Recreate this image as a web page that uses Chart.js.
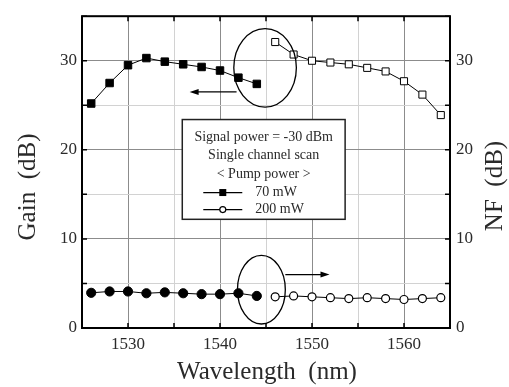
<!DOCTYPE html>
<html>
<head>
<meta charset="utf-8">
<script src="https://cdn.jsdelivr.net/npm/chart.js@4.4.0/dist/chart.umd.min.js"></script>
<style>
  html, body { margin: 0; padding: 0; background: #fff; }
  canvas { display: block; }
</style>
</head>
<body>
<canvas id="myChart" width="509" height="387"></canvas>
<script>
// values
var wavelength70 = [1526, 1528, 1530, 1532, 1534, 1536, 1538, 1540, 1542, 1544];
var gain70 = [25.2, 27.5, 29.5, 30.3, 29.9, 29.6, 29.3, 28.9, 28.1, 27.4];
var nf70 = [3.95, 4.1, 4.1, 3.9, 4.0, 3.9, 3.8, 3.8, 3.9, 3.6];

var wavelength200 = [1546, 1548, 1550, 1552, 1554, 1556, 1558, 1560, 1562, 1564];
var gain200 = [32.1, 30.7, 30.0, 29.8, 29.6, 29.2, 28.8, 27.7, 26.2, 23.9];
var nf200 = [3.5, 3.6, 3.5, 3.4, 3.3, 3.4, 3.3, 3.2, 3.3, 3.4];

var xLabels = [1530, 1540, 1550, 1560];
var yLabels = [0, 10, 20, 30];

var infoLines = ["Signal power = -30 dBm", "Single channel scan", "< Pump power >"];
var legendNames = ["70 mW", "200 mW"];

var serif = "'Liberation Serif', 'DejaVu Serif', serif";
var textColor = '#2a2a2a';

function pts(xs, ys) {
    return xs.map(function (x, i) { return { x: x, y: ys[i] }; });
}

function gridColor(ctx) {
    var v = ctx.tick ? ctx.tick.value : 0;
    return v % 10 === 0 ? '#8c8c8c' : '#d2d2d2';
}

var data = {
    datasets: [{
        label: "Gain 70 mW",
        data: pts(wavelength70, gain70),
        yAxisID: 'y',
        borderColor: '#000',
        borderWidth: 1,
        pointStyle: 'rect',
        pointRadius: 5.3,
        pointBackgroundColor: '#000',
        pointBorderColor: '#000'
    }, {
        label: "Gain 200 mW",
        data: pts(wavelength200, gain200),
        yAxisID: 'y',
        borderColor: '#000',
        borderWidth: 1,
        pointStyle: 'rect',
        pointRadius: 5,
        pointBackgroundColor: '#fff',
        pointBorderColor: '#000',
        pointBorderWidth: 1
    }, {
        label: "NF 70 mW",
        data: pts(wavelength70, nf70),
        yAxisID: 'y1',
        borderColor: '#000',
        borderWidth: 1,
        pointStyle: 'circle',
        pointRadius: 4.6,
        pointBackgroundColor: '#000',
        pointBorderColor: '#000'
    }, {
        label: "NF 200 mW",
        data: pts(wavelength200, nf200),
        yAxisID: 'y1',
        borderColor: '#000',
        borderWidth: 1,
        pointStyle: 'circle',
        pointRadius: 4,
        pointBackgroundColor: '#fff',
        pointBorderColor: '#000',
        pointBorderWidth: 1.2
    }]
};

// frame, inward ticks, ellipses, arrows, info box, axis titles
var decorations = {
    id: 'decorations',
    afterDraw: function (chart) {
        var ctx = chart.ctx;
        var a = chart.chartArea;
        var sx = chart.scales.x, sy = chart.scales.y;
        ctx.save();

        // inward tick marks every 5
        ctx.strokeStyle = '#000';
        ctx.lineWidth = 1.5;
        ctx.beginPath();
        for (var w = 1525; w <= 1565; w += 5) {
            var px = sx.getPixelForValue(w);
            ctx.moveTo(px, a.bottom); ctx.lineTo(px, a.bottom - 5);
            ctx.moveTo(px, a.top); ctx.lineTo(px, a.top + 5);
        }
        for (var v = 0; v <= 35; v += 5) {
            var py = sy.getPixelForValue(v);
            ctx.moveTo(a.left, py); ctx.lineTo(a.left + 5, py);
            ctx.moveTo(a.right, py); ctx.lineTo(a.right - 5, py);
        }
        ctx.stroke();

        // frame
        ctx.lineWidth = 2;
        ctx.strokeRect(a.left, a.top, a.right - a.left, a.bottom - a.top);

        // ellipses
        function ellipse(cx, cy, rx, ry) {
            ctx.beginPath();
            ctx.ellipse(sx.getPixelForValue(cx), sy.getPixelForValue(cy),
                Math.abs(sx.getPixelForValue(cx + rx) - sx.getPixelForValue(cx)),
                Math.abs(sy.getPixelForValue(cy + ry) - sy.getPixelForValue(cy)), 0, 0, Math.PI * 2);
            ctx.stroke();
        }
        ctx.lineWidth = 1.3;
        ellipse(1544.9, 29.2, 3.4, 4.4);
        ellipse(1544.5, 4.3, 2.6, 3.85);

        // arrows
        function arrow(x0, x1, yv) {
            var p0 = sx.getPixelForValue(x0), p1 = sx.getPixelForValue(x1), py = sy.getPixelForValue(yv);
            var dir = p1 > p0 ? 1 : -1;
            ctx.beginPath();
            ctx.moveTo(p0, py); ctx.lineTo(p1 - dir * 6, py);
            ctx.stroke();
            ctx.beginPath();
            ctx.moveTo(p1, py);
            ctx.lineTo(p1 - dir * 9, py - 3);
            ctx.lineTo(p1 - dir * 9, py + 3);
            ctx.closePath();
            ctx.fill();
        }
        ctx.fillStyle = '#000';
        arrow(1541.8, 1536.7, 26.5);
        arrow(1547.1, 1551.9, 6.0);

        // info box
        var bx0 = sx.getPixelForValue(1535.9), bx1 = sx.getPixelForValue(1553.6);
        var by0 = sy.getPixelForValue(23.4), by1 = sy.getPixelForValue(12.2);
        ctx.fillStyle = '#fff';
        ctx.fillRect(bx0, by0, bx1 - bx0, by1 - by0);
        ctx.lineWidth = 1.5;
        ctx.strokeStyle = '#222';
        ctx.strokeRect(bx0, by0, bx1 - bx0, by1 - by0);

        var cx = (bx0 + bx1) / 2;
        ctx.fillStyle = textColor;
        ctx.font = "14px " + serif;
        ctx.textAlign = 'center';
        ctx.textBaseline = 'middle';
        ctx.fillText(infoLines[0], cx, by0 + 18);
        ctx.fillText(infoLines[1], cx, by0 + 36);
        ctx.fillText(infoLines[2], cx, by0 + 55);

        // legend rows
        var rowY = [by0 + 73, by0 + 90];
        ctx.textAlign = 'left';
        for (var i = 0; i < 2; i++) {
            ctx.strokeStyle = '#000';
            ctx.lineWidth = 1.2;
            ctx.beginPath();
            ctx.moveTo(bx0 + 21, rowY[i]); ctx.lineTo(bx0 + 60, rowY[i]);
            ctx.stroke();
            if (i === 0) {
                ctx.fillStyle = '#000';
                ctx.fillRect(bx0 + 37, rowY[i] - 3.5, 7, 7);
            } else {
                ctx.fillStyle = '#fff';
                ctx.beginPath();
                ctx.arc(bx0 + 40.5, rowY[i], 3, 0, Math.PI * 2);
                ctx.fill();
                ctx.stroke();
            }
            ctx.fillStyle = textColor;
            ctx.fillText(legendNames[i], bx0 + 73, rowY[i]);
        }

        // axis titles
        ctx.font = "25px " + serif;
        ctx.textAlign = 'center';
        ctx.textBaseline = 'middle';
        ctx.fillText("Wavelength  (nm)", (a.left + a.right) / 2 + 1, 372);
        ctx.save();
        ctx.translate(28, 187);
        ctx.rotate(-Math.PI / 2);
        ctx.fillText("Gain  (dB)", 0, 0);
        ctx.restore();
        ctx.save();
        ctx.translate(495, 186);
        ctx.rotate(-Math.PI / 2);
        ctx.fillText("NF  (dB)", 0, 0);
        ctx.restore();

        ctx.restore();
    }
};

var tickFont = { family: serif, size: 17 };

var options = {
    responsive: false,
    animation: false,
    layout: { padding: { top: 10, left: 0, right: 0, bottom: 0 } },
    plugins: {
        legend: { display: false },
        tooltip: { enabled: false }
    },
    scales: {
        x: {
            type: 'linear',
            min: 1525,
            max: 1565,
            border: { display: false },
            grid: { color: gridColor, lineWidth: 1, drawTicks: false },
            ticks: {
                stepSize: 5,
                color: textColor,
                font: tickFont,
                padding: 6,
                maxRotation: 0,
                callback: function (v) { return xLabels.indexOf(v) >= 0 ? String(v) : ''; }
            },
            afterFit: function (s) { s.height = 59; }
        },
        y: {
            position: 'left',
            min: 0,
            max: 35,
            border: { display: false },
            grid: { color: gridColor, lineWidth: 1, drawTicks: false },
            ticks: {
                stepSize: 5,
                color: textColor,
                font: tickFont,
                padding: 5,
                callback: function (v) { return yLabels.indexOf(v) >= 0 ? String(v) : ''; }
            },
            afterFit: function (s) { s.width = 82; }
        },
        y1: {
            position: 'right',
            min: 0,
            max: 35,
            border: { display: false },
            grid: { display: false, drawTicks: false },
            ticks: {
                stepSize: 5,
                color: textColor,
                font: tickFont,
                padding: 6,
                callback: function (v) { return yLabels.indexOf(v) >= 0 ? String(v) : ''; }
            },
            afterFit: function (s) { s.width = 59; }
        }
    }
};

var ctx = document.getElementById('myChart').getContext('2d');
var myChart = new Chart(ctx, {
    type: 'line',
    data: data,
    options: options,
    plugins: [decorations]
});
</script>
</body>
</html>
